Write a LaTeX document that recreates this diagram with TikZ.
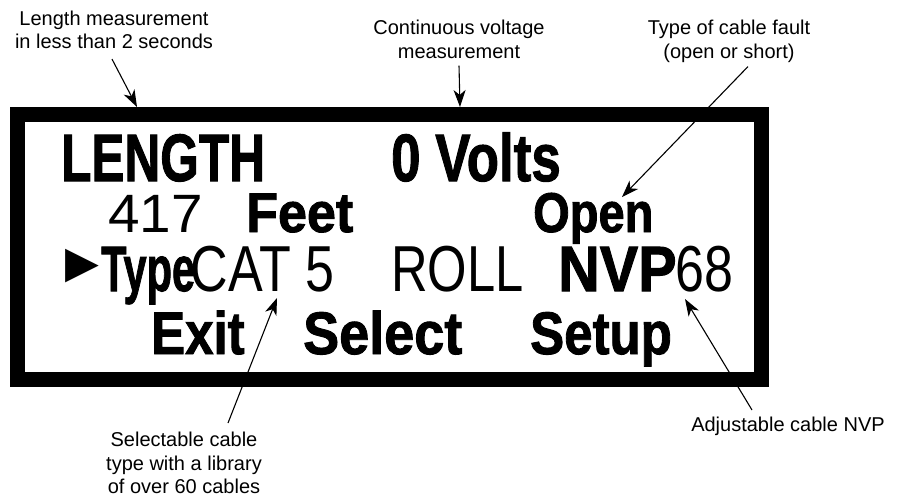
\documentclass[tikz,border=0pt]{standalone}
\usepackage{fontspec}
\setmainfont{Liberation Sans}
\newfontfamily\lcdfont{Liberation Sans}[BoldFeatures={FakeBold=1.6}]
\newfontfamily\symfont{DejaVu Sans}
\usetikzlibrary{arrows.meta}

\begin{document}
\begin{tikzpicture}[x=1pt,y=-1pt,
  note/.style={font=\fontsize{20}{23.5}\selectfont,align=center,anchor=north,inner sep=0},
  lcdbig/.style={font=\lcdfont\bfseries\fontsize{#1}{#1}\selectfont,anchor=base west,inner sep=0},
  lcdthin/.style={font=\lcdfont\fontsize{#1}{#1}\selectfont,anchor=base west,inner sep=0},
  pointer/.style={-{Stealth[length=17pt,width=12pt,inset=5pt]},line width=1.1pt}]
\useasboundingbox (0,0) rectangle (901,499);

% display frame
\draw[line width=15pt] (17.5,114.5) rectangle (761.5,379);

% display text
\node[lcdbig=67,xscale=.74] (length) at (61,181) {LENGTH};
\node[lcdbig=67,xscale=.79] (volts) at (391,181) {0 Volts};
\node[lcdthin=54,xscale=1.05] (feetval) at (108,232) {417};
\node[lcdbig=56,xscale=.93] (feet) at (246,232) {Feet};
\node[lcdbig=56,xscale=.84] (open) at (533,232) {Open};
\node[font=\symfont\fontsize{44}{44}\selectfont,inner sep=0] (cursor) at (82,266) {▶};
\node[lcdbig=64,xscale=.65] (type) at (101,291) {Type};
\node[lcdthin=65,xscale=.8] (cat) at (190.5,291) {CAT 5};
\node[lcdthin=65,xscale=.78] (roll) at (391,291) {ROLL};
\node[lcdbig=64,xscale=.9] (nvp) at (558,291) {NVP};
\node[lcdthin=65,xscale=.8] (nvpval) at (675,291) {68};
\node[lcdbig=60,xscale=.85] (exit) at (151,354) {Exit};
\node[lcdbig=60,xscale=.9] (select) at (303,354) {Select};
\node[lcdbig=60,xscale=.85] (setup) at (530,354) {Setup};

% notes
\node[note] (lenlbl) at (114,10.5) {Length measurement\\in less than 2 seconds};
\node[note] (voltlbl) at (459,20) {Continuous voltage\\measurement};
\node[note] (faultlbl) at (729,20) {Type of cable fault\\(open or short)};
\node[note] (cablelbl) at (184,432) {Selectable cable\\type with a library\\of over 60 cables};
\node[note] (nvplbl) at (788,417) {Adjustable cable NVP};

\coordinate (lentip) at (137,107);
\coordinate (volttip) at (460,107);
\coordinate (faulttip) at (622,197);
\coordinate (cattip) at (277,298);
\coordinate (nvptip) at (685,299);

\draw[pointer] ([xshift=-2pt,yshift=-10pt]lenlbl.south) -- (lentip);
\draw[pointer] ([yshift=-7pt]voltlbl.south) -- (volttip);
\draw[pointer] ([xshift=19pt,yshift=-4pt]faultlbl.south) -- (faulttip);
\draw[pointer] ([xshift=44pt,yshift=9pt]cablelbl.north) -- (cattip);
\draw[pointer] ([xshift=-36pt,yshift=7pt]nvplbl.north) -- (nvptip);
\end{tikzpicture}
\end{document}
